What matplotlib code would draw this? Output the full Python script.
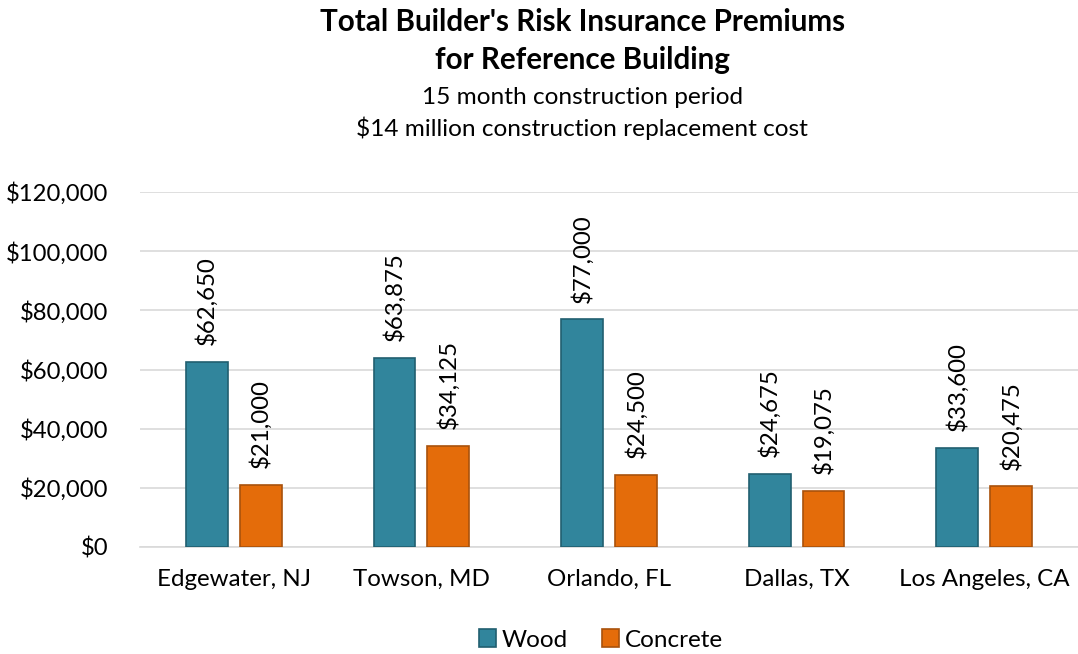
import matplotlib
matplotlib.use("Agg")
import matplotlib.pyplot as plt
import numpy as np

cities = ["Edgewater, NJ", "Towson, MD", "Orlando, FL", "Dallas, TX", "Los Angeles, CA"]
wood = [62650, 63875, 77000, 24675, 33600]
concrete = [21000, 34125, 24500, 19075, 20475]
yticks = [0, 20000, 40000, 60000, 80000, 100000, 120000]

plt.rcParams['font.family'] = ['Lato', 'DejaVu Sans']

fig = plt.figure(figsize=(10.78, 6.54), dpi=100)
ax = fig.add_axes([140/1078, 1-547/654, 938/1078, (547-192)/654])

x = np.arange(len(cities))
w = 0.223
off = 0.1436
wc, wec = "#31859C", "#215F70"
cc, cec = "#E46C0A", "#A9520C"
b1 = ax.bar(x - off, wood, w, color=wc, edgecolor=wec, linewidth=1.2, label="Wood", zorder=3)
b2 = ax.bar(x + off, concrete, w, color=cc, edgecolor=cec, linewidth=1.2, label="Concrete", zorder=3)

for bars, vals in ((b1, wood), (b2, concrete)):
    for b, v in zip(bars, vals):
        ax.annotate(f"${v:,}", (b.get_x() + b.get_width()/2, v), xytext=(0, 12),
                    textcoords="offset points", rotation=90, ha="center", va="bottom",
                    fontsize=17.3, color="#000000")

ax.set_xlim(-0.5, len(cities) - 0.5)
ax.set_ylim(0, 120000)
ax.set_yticks(yticks)
ax.set_yticklabels([f"${v:,}" for v in yticks], fontsize=17.2)
ax.set_xticks(x)
ax.set_xticklabels(cities, fontsize=17.4)
ax.tick_params(axis="y", length=0, pad=23)
ax.tick_params(axis="x", length=0, pad=16)
ax.grid(axis="y", color="#D9D9D9", linewidth=1.2, zorder=0)
for s in ["top", "right", "left"]:
    ax.spines[s].set_visible(False)
ax.spines["bottom"].set_color("#D9D9D9")
ax.spines["bottom"].set_linewidth(1.2)

fig.text(0.54, 1-22/654, "Total Builder's Risk Insurance Premiums", ha="center", va="center",
         fontsize=21.3, fontweight="bold")
fig.text(0.54, 1-60/654, "for Reference Building", ha="center", va="center",
         fontsize=21.3, fontweight="bold")
fig.text(0.54, 1-97/654, "15 month construction period", ha="center", va="center", fontsize=17.6)
fig.text(0.54, 1-128/654, "$14 million construction replacement cost", ha="center", va="center", fontsize=17.6)

fig.legend(handles=[b1, b2], labels=["Wood", "Concrete"], loc="center",
           bbox_to_anchor=(601/1078, 1-640/654), ncol=2, frameon=False, fontsize=17.5,
           handlelength=0.7, handleheight=0.7, handletextpad=0.25, columnspacing=1.4)

fig.savefig("out.png", dpi=100)
